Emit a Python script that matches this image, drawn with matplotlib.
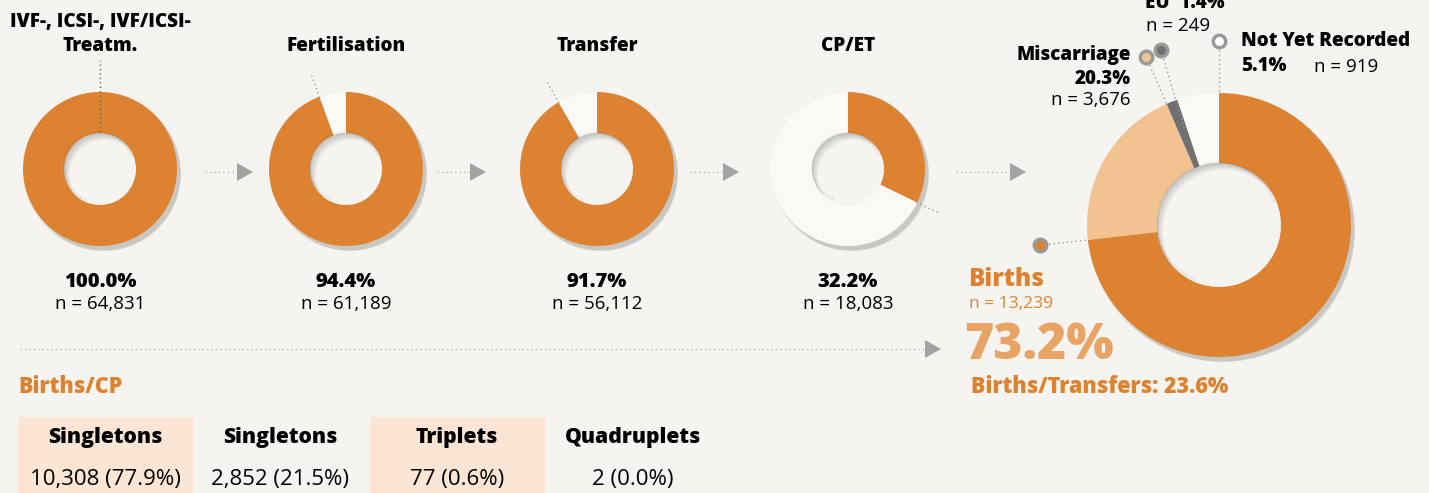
import numpy as np
import matplotlib.pyplot as plt
from matplotlib.patches import Wedge, Polygon, Rectangle

plt.rcParams['font.family'] = ['Open Sans', 'DejaVu Sans']

# ---- data ----
stages = ["IVF-, ICSI-, IVF/ICSI-\nTreatm.", "Fertilisation", "Transfer", "CP/ET"]
stage_pct = [100.0, 94.4, 91.7, 32.2]
stage_n = [64831, 61189, 56112, 18083]

outcome_labels = ["Births", "Miscarriage", "EU", "Not Yet Recorded"]
outcome_pct = [73.2, 20.3, 1.4, 5.1]
outcome_n = [13239, 3676, 249, 919]
births_per_transfer = 23.6

multiple_labels = ["Singletons", "Singletons", "Triplets", "Quadruplets"]
multiple_n = [10308, 2852, 77, 2]
multiple_pct = [77.9, 21.5, 0.6, 0.0]

# ---- style ----
W, H = 1429, 493
BG = '#F5F4F0'
ORANGE = '#DD8230'
LIGHT_OR = '#F2C391'
PALE = '#FAF9F6'
EU_GRAY = '#707070'
ARROW = '#A3A3A3'
DOT = '#9A9A9A'
BOX = '#FBE6D6'
HEAVY = 'heavy'


def Y(y):
    # pixel row (from top) -> data y (from bottom)
    return H - y


fig = plt.figure(figsize=(W / 100, H / 100), dpi=100)
fig.patch.set_facecolor(BG)
ax = fig.add_axes([0, 0, 1, 1])
ax.set_facecolor(BG)


def shadow(cx, cy, r, ri):
    for k in range(6):
        ax.add_patch(Wedge((cx + 2 + k * 0.6, Y(cy) - 3 - k * 0.6), r + 1.5 - k * 0.5, 0, 360,
                           width=r - ri, facecolor='black', alpha=0.03, lw=0, zorder=1))


def inner_shade(cx, cy, ri):
    for k in range(3):
        ax.add_patch(Wedge((cx - 1, Y(cy) + 1.5), ri - k * 0.8, 20, 250, width=1.2,
                           facecolor='black', alpha=0.03, lw=0, zorder=3))


def donut(cx, cy, r, ri, vals, cols):
    shadow(cx, cy, r, ri)
    ax.pie(vals, colors=cols, center=(cx, Y(cy)), radius=r, startangle=90,
           counterclock=False, wedgeprops=dict(width=r - ri, edgecolor='none', zorder=2))
    inner_shade(cx, cy, ri)


def polar(cx, cy, rad, frac):
    # point at fraction `frac` of a clockwise-from-top circle
    th = 2 * np.pi * frac
    return cx + rad * np.sin(th), Y(cy) + rad * np.cos(th)


def dotted(x0, y0, x1, y1, color=DOT, lw=1.0):
    ax.plot([x0, x1], [y0, y1], color=color, lw=lw, ls=(0, (1, 2.2)), zorder=5)


def arrow(x0, x1, y):
    dotted(x0, Y(y), x1, Y(y), color='#B5B5B5')
    ax.add_patch(Polygon([[x1 + 1, Y(y) + 9], [x1 + 1, Y(y) - 9], [x1 + 17, Y(y)]],
                         closed=True, facecolor=ARROW, lw=0, zorder=5))


# ---- small donuts ----
centers = [100, 346, 597, 848]
cy, r, ri = 169, 77, 36
for i, (cx, lab, p, n) in enumerate(zip(centers, stages, stage_pct, stage_n)):
    donut(cx, cy, r, ri, [p, 100 - p], [ORANGE, PALE])
    lines = lab.split('\n')
    for j, line in enumerate(reversed(lines)):
        ax.text(cx, Y(51 - 24 * j), line, ha='center', va='baseline', fontsize=13.6,
                fontweight=HEAVY, color='black')
    ax.text(cx, Y(282), f"{p:.1f}%", ha='center', va='center', fontsize=14.5,
            fontweight=HEAVY, color='black')
    ax.text(cx, Y(304), f"n = {n:,}", ha='center', va='center', fontsize=13.5, color='black')
    # leader at the end of the orange slice
    f = p / 100
    if i == 0:
        x0, y0 = polar(cx, cy, ri + 1, f)
        x1, y1 = polar(cx, cy, r + 32, f)
        dotted(x0, y0, x1, y1, color='#6A5A4A')
    else:
        x0, y0 = polar(cx, cy, r - 1, f)
        x1, y1 = polar(cx, cy, r + 25, f)
        dotted(x0, y0, x1, y1)

# arrows between stages
for x0, x1 in [(205, 236), (437, 469), (690, 722), (956, 1009)]:
    arrow(x0, x1, 172)
arrow(20, 924, 349)

# ---- big outcome donut ----
bcx, bcy, br, bri = 1219, 225, 132, 62
donut(bcx, bcy, br, bri, outcome_pct, [ORANGE, LIGHT_OR, EU_GRAY, PALE])

ends = np.cumsum(outcome_pct) / 100
fills = [ORANGE, LIGHT_OR, EU_GRAY, 'white']
marker_r = [180, 183, 184, 184]
for k in range(4):
    mx, my = polar(bcx, bcy, marker_r[k], ends[k])
    ex, ey = polar(bcx, bcy, br - 1 if k != 2 else bri + 40, ends[k] - (0.004 if k == 2 else 0))
    dotted(mx, my, ex, ey)
    ax.plot(mx, my, 'o', ms=9, mfc=fills[k], mec='#9A9A9A', mew=2.5, zorder=6)

# outcome labels
ax.text(1131, Y(55), outcome_labels[1], ha='right', va='center', fontsize=13.5,
        fontweight=HEAVY)
ax.text(1131, Y(79), f"{outcome_pct[1]:.1f}%", ha='right', va='center', fontsize=13.5,
        fontweight=HEAVY)
ax.text(1131, Y(100), f"n = {outcome_n[1]:,}", ha='right', va='center', fontsize=13.5)

ax.text(1145, Y(8), f"{outcome_labels[2]}  {outcome_pct[2]:.1f}%", ha='left',
        va='baseline', fontsize=13.5, fontweight=HEAVY)
ax.text(1146, Y(26), f"n = {outcome_n[2]:,}", ha='left', va='center', fontsize=13.5)

ax.text(1241, Y(41), outcome_labels[3], ha='left', va='center', fontsize=13.6,
        fontweight=HEAVY)
ax.text(1241, Y(66), f"{outcome_pct[3]:.1f}%", ha='left', va='center', fontsize=13.6,
        fontweight=HEAVY)
ax.text(1314, Y(67), f"n = {outcome_n[3]:,}", ha='left', va='center', fontsize=13.5)

ax.text(968, Y(280), outcome_labels[0], ha='left', va='center', fontsize=17.5,
        fontweight=HEAVY, color=ORANGE)
ax.text(969, Y(304), f"n = {outcome_n[0]:,}", ha='left', va='center', fontsize=12.5,
        color=ORANGE)
ax.text(964, Y(346), f"{outcome_pct[0]:.1f}%", ha='left', va='center', fontsize=36,
        fontweight=HEAVY, color='#E8A464')
ax.text(971, Y(387), f"Births/Transfers: {births_per_transfer:.1f}%", ha='left',
        va='center', fontsize=15.5, fontweight=HEAVY, color=ORANGE)

# ---- births/CP table ----
ax.text(18, Y(387), "Births/CP", ha='left', va='center', fontsize=15.5,
        fontweight=HEAVY, color=ORANGE)
col_x = [105, 280, 457, 633]
for k, (lab, n, p) in enumerate(zip(multiple_labels, multiple_n, multiple_pct)):
    if k % 2 == 0:
        ax.add_patch(Rectangle((col_x[k] - 87, Y(H + 5)), 175, 81, facecolor=BOX, lw=0,
                               zorder=1))
    ax.text(col_x[k], Y(438), lab, ha='center', va='center', fontsize=15.2, fontweight=HEAVY)
    ax.text(col_x[k], Y(480), f"{n:,} ({p:.1f}%)", ha='center', va='center', fontsize=16)

ax.set_xlim(0, W)
ax.set_ylim(0, H)
ax.set_aspect('equal')
ax.axis('off')
fig.savefig('out.png', dpi=100, facecolor=BG)
